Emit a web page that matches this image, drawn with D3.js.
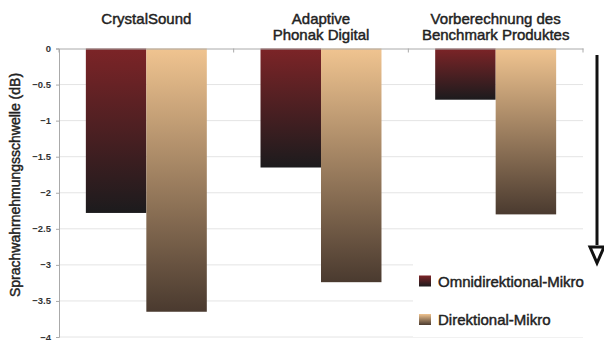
<!DOCTYPE html>
<html><head><meta charset="utf-8">
<script src="https://cdn.jsdelivr.net/npm/d3@7"></script>
<style>body{margin:0;background:#fff}svg{display:block;font-family:"Liberation Sans",Arial,sans-serif}</style>
</head><body><svg id="c" width="604" height="340"></svg>
<script>
const categories = [["CrystalSound"], ["Adaptive", "Phonak Digital"], ["Vorberechnung des", "Benchmark Produktes"]];
const seriesNames = ["Omnidirektional-Mikro", "Direktional-Mikro"];
const omni = [-2.28, -1.65, -0.71];
const direk = [-3.65, -3.24, -2.3];
const yTicks = [0, -0.5, -1, -1.5, -2, -2.5, -3, -3.5, -4];
const yTitle = "Sprachwahrnehmungsschwelle (dB)";

const svg = d3.select("#c");
const m = {l: 59, r: 583, t: 48.5, b: 337};
const x0 = d3.scaleBand().domain(d3.range(categories.length)).range([m.l, m.r]).paddingInner(0).paddingOuter(0);
const x1 = d3.scaleBand().domain([0, 1]).range([0, x0.bandwidth()]).paddingOuter(0.444).paddingInner(0);
const y = d3.scaleLinear().domain([0, -4]).range([m.t, m.b]);

const defs = svg.append("defs");
const grads = [["#7c2427", "#1c1b1d"], ["#f0c490", "#4a3a2f"]];
grads.forEach((g, i) => {
  const lg = defs.append("linearGradient").attr("id", "g" + i).attr("x1", 0).attr("y1", 0).attr("x2", 0).attr("y2", 1);
  lg.append("stop").attr("offset", "0%").attr("stop-color", g[0]);
  lg.append("stop").attr("offset", "100%").attr("stop-color", g[1]);
});

// gridlines
svg.append("g").selectAll("line").data(yTicks.filter(d => d !== 0)).join("line")
  .attr("x1", m.l).attr("x2", m.r).attr("y1", d => y(d)).attr("y2", d => y(d))
  .attr("stroke", "#e4e4e4").attr("stroke-width", 1);

// bars
const series = [omni, direk];
series.forEach((vals, si) => {
  svg.append("g").selectAll("rect").data(vals).join("rect")
    .attr("x", (d, i) => x0(i) + x1(si))
    .attr("width", x1.bandwidth())
    .attr("y", y(0))
    .attr("height", d => y(d) - y(0))
    .attr("fill", "url(#g" + si + ")");
});

// y axis
const ya = svg.append("g").attr("transform", `translate(${m.l},0)`)
  .call(d3.axisLeft(y).tickValues(yTicks).tickSize(3).tickFormat(d => d === 0 ? "0" : d3.format("")(d)));
ya.select(".domain").attr("stroke", "#aaa");
ya.selectAll(".tick line").attr("stroke", "#aaa");
ya.selectAll(".tick text").attr("fill", "#333").attr("font-size", 9.5).attr("font-weight", "bold").attr("x", -8);

// top x axis line at 0
const xa = svg.append("g").attr("transform", `translate(0,${y(0)})`)
  .call(d3.axisBottom(x0).tickValues([]).tickSize(0));
xa.select(".domain").attr("stroke", "#aaa");
svg.append("g").selectAll("line").data(d3.range(categories.length + 1)).join("line")
  .attr("x1", i => i < categories.length ? x0(i) : m.r).attr("x2", i => i < categories.length ? x0(i) : m.r)
  .attr("y1", y(0)).attr("y2", y(0) + 4).attr("stroke", "#aaa");

const med = sel => sel.attr("fill", "#222").attr("stroke", "#222").attr("stroke-width", 0.45);

// category labels
categories.forEach((lines, i) => {
  const cx = x0(i) + x0.bandwidth() / 2;
  const t = svg.append("text").attr("text-anchor", "middle").attr("font-size", 15).call(med);
  lines.forEach((ln, k) => t.append("tspan").attr("x", cx).attr("y", 23.5 + k * 16).text(ln));
});

// y title
svg.append("text").attr("transform", `translate(20,185) rotate(-90)`)
  .attr("text-anchor", "middle").attr("font-size", 14).call(med).text(yTitle);

// legend
const lg = svg.append("g");
lg.append("rect").attr("x", 413).attr("y", 262).attr("width", 170).attr("height", 75).attr("fill", "#fff");
seriesNames.forEach((s, i) => {
  const yy = 281 + i * 38.5;
  lg.append("rect").attr("x", 419).attr("y", yy - 5.5).attr("width", 12).attr("height", 11).attr("fill", "url(#g" + i + ")");
  lg.append("text").attr("x", 438).attr("y", yy + 5.5).attr("font-size", 15).call(med).text(s);
});

// arrow
svg.append("line").attr("x1", 597).attr("x2", 597).attr("y1", 55).attr("y2", 245).attr("stroke", "#111").attr("stroke-width", 3);
svg.append("path").attr("d", "M590,247 L604,247 L597,263 Z").attr("fill", "#fff").attr("stroke", "#111").attr("stroke-width", 3).attr("stroke-linejoin", "miter");
</script></body></html>
